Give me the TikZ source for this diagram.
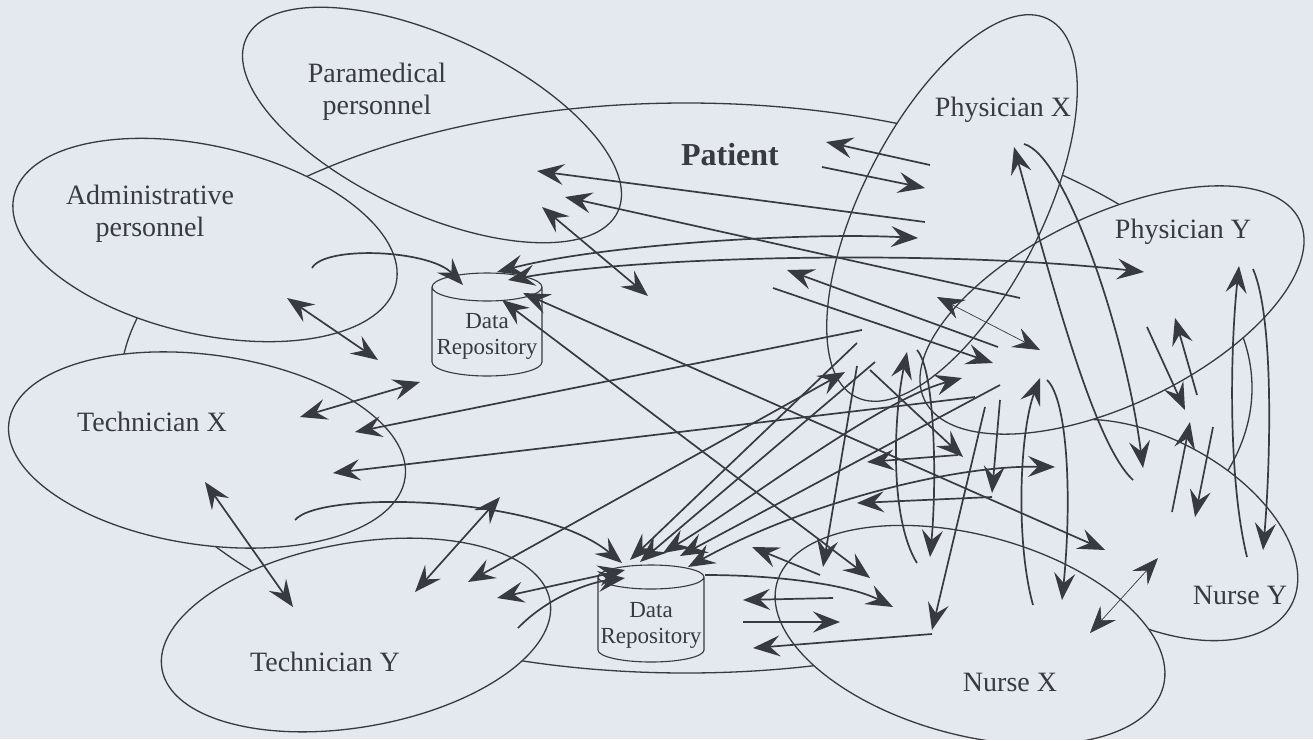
\documentclass[tikz,border=0pt]{standalone}
\usepackage{fontspec}
\setmainfont{Liberation Serif}
\usetikzlibrary{arrows.meta,shapes.geometric}
\definecolor{bg}{RGB}{228,232,239}
\definecolor{ink}{RGB}{55,58,63}

\tikzset{
  team/.style={ellipse, draw=ink, line width=1.3pt, inner sep=0pt},
  blank/.style={ellipse, fill=bg, inner sep=0pt},
  lbl/.style={text=ink, align=center, inner sep=0pt, font=\fontsize{28}{32}\selectfont},
  dblbl/.style={text=ink, align=center, inner sep=0pt, font=\fontsize{23}{26}\selectfont},
  link/.style={draw=ink, line width=1.7pt},
  tip/.tip={Stealth[length=27pt,width=21pt,inset=10pt]},
  arr/.style={link, -tip},
  darr/.style={link, tip-tip},
  faint/.style={line width=0.7pt},
}

\begin{document}
\begin{tikzpicture}[x=1pt,y=-1pt]
\fill[bg] (0,0) rectangle (1313,739);
\useasboundingbox (0,0) rectangle (1313,739);

% the patient's sphere
\node[team, minimum width=1132pt, minimum height=570pt] (patient) at (686,388) {};

% nurse Y (left part lies under physician Y and nurse X)
\begin{scope}
  \clip (1092,300) rectangle (1313,739);
  \node[team, fill=bg, minimum width=320pt, minimum height=184pt, rotate=-28] (nursey) at (1150,530) {};
\end{scope}

% physicians: both outlines stay visible where they overlap
\node[blank, minimum width=424pt, minimum height=180pt, rotate=63] (physxbg) at (952,208) {};
\node[blank, minimum width=416pt, minimum height=190pt, rotate=25.6] (physybg) at (1112,310) {};
\node[team, minimum width=424pt, minimum height=180pt, rotate=63] (physx) at (952,208) {};
\node[team, minimum width=416pt, minimum height=190pt, rotate=25.6] (physy) at (1112,310) {};

% nurse X
\node[team, fill=bg, minimum width=400pt, minimum height=200pt, rotate=-15] (nursex) at (970,635) {};

% administrative and technical staff
\node[team, fill=bg, minimum width=392pt, minimum height=188pt, rotate=-13] (admin) at (205,240) {};
\node[team, fill=bg, minimum width=400pt, minimum height=190pt, rotate=-8] (techx) at (207,450) {};
\node[team, fill=bg, minimum width=394pt, minimum height=184pt, rotate=10] (techy) at (356,635) {};

% paramedical staff (open outline)
\node[team, minimum width=410pt, minimum height=176pt, rotate=-25] (para) at (432,125) {};

% data repositories
\filldraw[fill=bg, draw=ink, line width=1.1pt]
  (432,287) -- (432,362) arc[start angle=180, end angle=360, x radius=55pt, y radius=14pt] -- (542,287)
  arc[start angle=0, end angle=360, x radius=55pt, y radius=14pt];
\filldraw[fill=bg, draw=ink, line width=1.1pt]
  (598,577) -- (598,650) arc[start angle=180, end angle=360, x radius=53pt, y radius=12pt] -- (704,577)
  arc[start angle=0, end angle=360, x radius=53pt, y radius=12pt];
\node[dblbl] (dr1) at (487,336) {Data\\Repository};
\node[dblbl] (dr2) at (651,625) {Data\\Repository};

% labels
\node[lbl] (tpara) at (377,92) {Paramedical\\personnel};
\node[lbl] (tadmin) at (150,214) {Administrative\\personnel};
\node[text=ink, inner sep=0pt, font=\fontsize{32}{36}\selectfont\bfseries] (tpatient) at (730,155) {Patient};
\node[lbl] (tphysx) at (1003,110) {Physician X};
\node[lbl] (tphysy) at (1183,232) {Physician Y};
\node[lbl] (ttechx) at (152,422) {Technician X};
\node[lbl] (ttechy) at (325,662) {Technician Y};
\node[lbl] (tnursex) at (1010,682) {Nurse X};
\node[lbl] (tnursey) at (1240,595) {Nurse Y};

% exchanges around the patient and physician X
\draw[arr] (930,165) -- (826,142);
\draw[arr] (822,167) -- (925,188);
\draw[arr] (925,222) -- (537,171);
\draw[arr] (1020,298) -- (565,197);
\draw[darr] (542,207) -- (648,296);
\draw[darr] (497,272) .. controls (600,245) and (800,232) .. (918,238);
\draw[darr] (508,280) .. controls (650,255) and (950,250) .. (1144,272);
\draw[arr] (312,268) .. controls (325,245) and (430,250) .. (463,285);
\draw[darr] (287,298) -- (378,360);
\draw[darr] (300,417) -- (420,382);
\draw[arr] (862,330) -- (355,432);
\draw[arr] (975,397) -- (333,473);
\draw[darr] (523,293) -- (1105,550);
\draw[darr] (502,300) -- (870,578);

% technicians
\draw[darr] (205,482) -- (293,607);
\draw[arr] (295,520) .. controls (320,490) and (540,495) .. (622,563);
\draw[arr] (518,628) .. controls (545,600) and (585,583) .. (625,578);
\draw[darr] (500,497) -- (415,592);
\draw[darr] (468,582) -- (845,372);
\draw[darr] (625,570) -- (497,598);

% physician Y and nurse Y
\draw[arr] (1133,480) .. controls (1095,445) and (1055,295) .. (1014,147);
\draw[arr] (1024,144) .. controls (1065,155) and (1125,330) .. (1143,468);
\draw[arr] (1247,557) .. controls (1228,480) and (1230,350) .. (1239,266);
\draw[arr] (1253,269) .. controls (1275,320) and (1270,470) .. (1263,550);
\draw[arr] (1197,395) -- (1175,318);
\draw[arr] (1147,327) -- (1185,410);
\draw[arr] (1213,427) -- (1195,517);
\draw[arr] (1172,512) -- (1190,422);
\draw[darr, faint] (1158,558) -- (1090,633);
\draw[darr, faint] (937,297) -- (1040,350);
\draw[arr] (998,347) -- (787,270);
\draw[arr] (773,288) -- (993,363);

% nurse X and the second repository
\draw[arr] (1047,380) .. controls (1068,400) and (1072,500) .. (1062,600);
\draw[arr] (1033,605) .. controls (1015,540) and (1020,430) .. (1040,378);
\draw[arr] (917,350) .. controls (935,370) and (937,480) .. (930,557);
\draw[arr] (917,563) .. controls (890,520) and (893,420) .. (907,352);
\draw[arr] (985,407) -- (932,630);
\draw[arr] (932,634) -- (753,648);
\draw[arr] (1000,400) -- (992,493);
\draw[arr] (992,497) -- (857,503);
\draw[arr] (958,455) -- (867,462);
\draw[darr] (688,567) .. controls (800,505) and (950,465) .. (1055,467);
\draw[arr] (870,370) -- (963,457);
\draw[arr] (857,366) -- (823,567);
\draw[arr] (820,575) -- (752,547);
\draw[arr] (705,575) .. controls (780,575) and (850,585) .. (893,607);
\draw[arr] (833,598) -- (743,600);
\draw[arr] (743,622) -- (840,622);
\draw[arr] (857,343) -- (630,560);
\draw[darr] (663,553) .. controls (750,500) and (880,400) .. (962,378);
\draw[arr] (1000,385) -- (680,556);
\draw[arr] (875,362) -- (640,562);
\end{tikzpicture}
\end{document}
